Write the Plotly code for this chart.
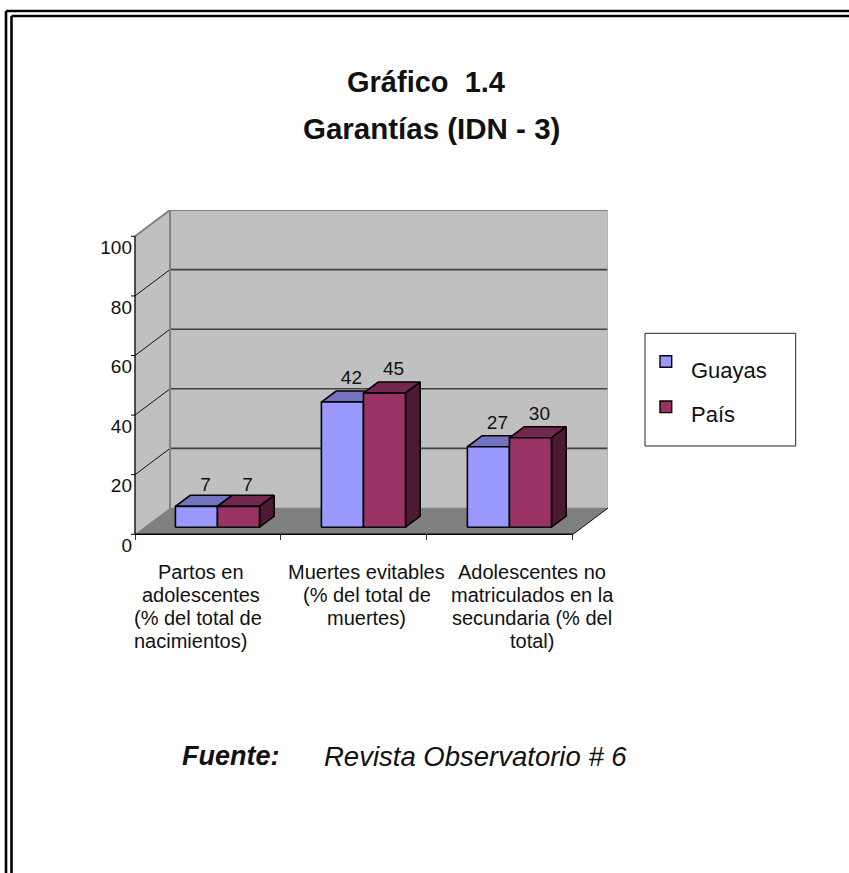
import plotly.graph_objects as go

# ---- data ----
series_names = ["Guayas", "País"]
guayas = [7, 42, 27]
pais = [7, 45, 30]
y_ticks = [0, 20, 40, 60, 80, 100]
cat_lines = [
    ["Partos en", "adolescentes", "(% del total de", "nacimientos)"],
    ["Muertes evitables", "(% del total de", "muertes)"],
    ["Adolescentes no", "matriculados en la", "secundaria (% del", "total)"],
]
title_lines = ["Gráfico  1.4", "Garantías (IDN - 3)"]

# ---- styling / geometry ----
W, H = 849, 873
FONT = "Liberation Sans"
INK = "#111111"
X0, X1, Y0, Y1 = 135.0, 608.0, 534.3, 210.0
DX, DY = 0.24, 8.83          # depth of the box, data units
XMAX, YMAX = 3.0 + DX, 100 + DY
PADX, PADY = 0.1, 5.0        # spare room so that nothing sits on the plot edge
UX = (X1 - X0) / XMAX        # pixels per category
UY = (Y0 - Y1) / YMAX        # pixels per y unit
F0, F1 = 0.27, 0.69          # depth fractions of bars
BW = 0.288                   # bar width, category units
FILL = ["#9999FF", "#993366"]
TOP = ["#7373BF", "#732650"]
SIDE = ["#4D4D80", "#4D1A33"]

px = lambda x: x / W
py = lambda y: 1 - y / H

fig = go.Figure()


def poly(xs, ys, fill, line="black", lw=1.6):
    fig.add_trace(go.Scatter(x=xs + xs[:1], y=ys + ys[:1], mode="lines", fill="toself",
                             fillcolor=fill, line=dict(color=line, width=lw),
                             hoverinfo="skip", showlegend=False, cliponaxis=False))


def seg(xs, ys, color, lw):
    fig.add_trace(go.Scatter(x=xs, y=ys, mode="lines", line=dict(color=color, width=lw),
                             hoverinfo="skip", showlegend=False, cliponaxis=False))


# walls and floor
poly([0, DX, DX, 0], [0, DY, 100 + DY, 100], "#C0C0C0", "#C0C0C0", 0.5)
poly([DX, 3 + DX, 3 + DX, DX], [DY, DY, 100 + DY, 100 + DY], "#C0C0C0", "#C0C0C0", 0.5)
poly([0, 3, 3 + DX, DX], [0, 0, DY, DY], "#808080", "#808080", 0.5)

# gridlines
for t in y_ticks[1:-1]:
    seg([0, DX], [t, t + DY], "#111111", 1)
    seg([DX, 3 + DX], [t + DY, t + DY], "#404040", 1.6)
seg([0, DX, 3 + DX], [100, 100 + DY, 100 + DY], "#808080", 2)
seg([DX, DX], [DY, 100 + DY], "#808080", 2)
seg([3 + DX, 3 + DX], [DY, 100 + DY], "#B0B0B0", 1.5)
seg([3, 3 + DX], [0, DY], "#111111", 1)
seg([0, 0], [0, 100], "black", 1.3)
seg([0, 3], [0, 0], "black", 1.5)
for t in y_ticks:
    seg([-4 / UX, 0], [t, t], "black", 1)

# bars
label_x, label_y, label_t = [], [], []
for i in range(3):
    for s, vals in enumerate((guayas, pais)):
        v = vals[i]
        c = i + 0.5
        xl = c - BW + s * BW + F0 * DX
        xr = xl + BW
        yb = F0 * DY
        yt = yb + v
        ddx = (F1 - F0) * DX
        ddy = (F1 - F0) * DY
        poly([xl, xr, xr + ddx, xl + ddx], [yt, yt, yt + ddy, yt + ddy], TOP[s])
        poly([xr, xr + ddx, xr + ddx, xr], [yb, yb + ddy, yt + ddy, yt], SIDE[s])
        poly([xl, xr, xr, xl], [yb, yb, yt, yt], FILL[s])
        label_x.append((xl + xr) / 2 + 9 / UX)
        label_y.append(yt + (6.7 if v < 10 else 7.7))
        label_t.append(str(v))

fig.add_trace(go.Scatter(x=label_x, y=label_y, text=label_t, mode="text", textposition="middle center",
                         textfont=dict(family=FONT, size=19, color=INK), hoverinfo="skip",
                         showlegend=False, cliponaxis=False))

shapes = []
# document frame
for a, b in ((6, 11), (11.5, 16)):
    shapes.append(dict(type="line", xref="paper", yref="paper", x0=px(a), x1=px(a), y0=py(H), y1=py(b),
                       line=dict(color="black", width=2.6)))
    shapes.append(dict(type="line", xref="paper", yref="paper", x0=px(a), x1=1, y0=py(b), y1=py(b),
                       line=dict(color="black", width=2.6)))
# legend box and keys
shapes.append(dict(type="rect", xref="paper", yref="paper", x0=px(645), x1=px(795.7), y0=py(446), y1=py(333.3),
                   line=dict(color="#222222", width=1), fillcolor="white"))
for k, (top, col) in enumerate(zip((355.7, 401), FILL)):
    shapes.append(dict(type="rect", xref="paper", yref="paper", x0=px(660), x1=px(671.7), y0=py(top + 11.6),
                       y1=py(top), line=dict(color="black", width=1.4), fillcolor=col))

ann = []


def text(s, x, y, size, anchor="center", bold=False, italic=False):
    if bold:
        s = f"<b>{s}</b>"
    if italic:
        s = f"<i>{s}</i>"
    ann.append(dict(text=s, x=px(x), y=py(y), xref="paper", yref="paper", showarrow=False, xanchor=anchor,
                    yanchor="middle", borderpad=0, borderwidth=0,
                    font=dict(family=FONT, size=size, color=INK)))


text(title_lines[0], 426, 82, 29, bold=True)
text(title_lines[1], 431, 128, 29.5, bold=True)

cat_centers = [[201, 201, 197.7, 190], [366.7, 366.7, 366], [532, 532, 532, 532]]
line_ys = [571.7, 595, 618, 641]
for lines, centers in zip(cat_lines, cat_centers):
    for j, (ln, cx) in enumerate(zip(lines, centers)):
        text(ln, cx, line_ys[j], 20)

text(series_names[0], 691, 370, 22, anchor="left")
text(series_names[1], 691, 414, 22, anchor="left")
text("Fuente:", 181.7, 756, 27, anchor="left", bold=True, italic=True)
text("Revista Observatorio # 6", 324, 756, 27.5, anchor="left", italic=True)

fig.update_layout(
    width=W, height=H, autosize=False, margin=dict(l=0, r=0, t=0, b=0, autoexpand=False),
    paper_bgcolor="white", plot_bgcolor="rgba(0,0,0,0)", showlegend=False,
    shapes=shapes, annotations=ann,
    xaxis=dict(domain=[px(X0 - PADX * UX), px(X1)], range=[-PADX, XMAX], anchor="free", position=py(Y0),
               tickmode="array", tickvals=[0, 1, 2, 3],
               showticklabels=False, ticks="outside", ticklen=5, tickcolor="#333333", tickwidth=1,
               showgrid=False, zeroline=False, showline=False, fixedrange=True),
    yaxis=dict(domain=[py(Y0 + PADY * UY), py(Y1)], range=[-PADY, YMAX], anchor="free", position=px(X0 - 3),
               tickmode="array", tickvals=y_ticks,
               ticktext=[str(t) for t in y_ticks], ticks="",
               tickfont=dict(family=FONT, size=19, color=INK), ticklabelshift=11,
               showgrid=False, zeroline=False, showline=False, fixedrange=True),
)

fig.write_html("out.html", config={"displayModeBar": False},
               post_script="document.body.style.margin='0';document.body.style.overflow='hidden';")
